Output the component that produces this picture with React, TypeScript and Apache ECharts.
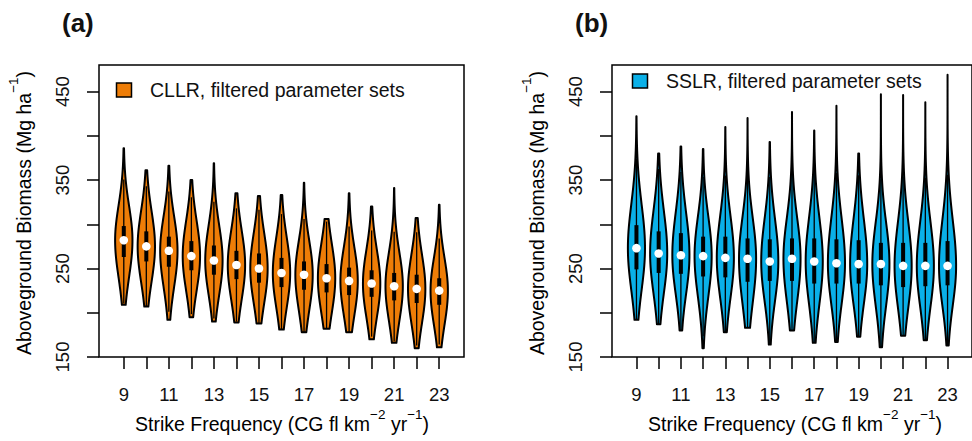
import React, { useEffect, useRef } from "react";
import * as echarts from "echarts";

// Strike frequency categories (CG fl km^-2 yr^-1)
const freq = [9, 10, 11, 12, 13, 14, 15, 16, 17, 18, 19, 20, 21, 22, 23];

// Panel (a): CLLR, filtered parameter sets (Mg ha^-1)
const aMin = [209, 207, 192, 195, 190, 189, 188, 181, 178, 182, 178, 170, 166, 160, 161];
const aQ1 = [263, 258, 252, 248, 243, 238, 234, 229, 226, 223, 220, 218, 214, 211, 209];
const aMed = [282, 275, 270, 264, 259, 254, 250, 245, 243, 239, 236, 233, 230, 227, 225];
const aQ3 = [298, 292, 286, 281, 276, 270, 267, 262, 258, 255, 251, 248, 245, 243, 239];
const aMax = [386, 361, 366, 350, 369, 335, 332, 333, 347, 306, 335, 320, 341, 307, 322];

// Panel (b): SSLR, filtered parameter sets (Mg ha^-1)
const bMin = [192, 187, 180, 160, 178, 183, 164, 180, 166, 167, 173, 161, 174, 169, 163];
const bQ1 = [249, 245, 244, 241, 240, 235, 236, 236, 233, 233, 233, 231, 229, 230, 231];
const bMed = [273, 267, 265, 264, 262, 261, 258, 261, 258, 256, 255, 255, 253, 253, 253];
const bQ3 = [299, 292, 290, 286, 286, 284, 283, 284, 284, 283, 282, 279, 279, 279, 281];
const bMax = [422, 380, 388, 385, 410, 420, 393, 427, 406, 434, 380, 447, 446, 438, 469];

const yTickValues = [150, 200, 250, 300, 350, 400, 450];
const yLabelValues = [150, 250, 350, 450];
const xLabelValues = [9, 11, 13, 15, 17, 19, 21, 23];

const FONT = "'Liberation Sans', Arial, Helvetica, sans-serif";
const ORANGE = "#EE7D07";
const BLUE = "#0AB0E8";
const INK = "#111111";

function makeRender(fill: string) {
  return (params: any, api: any) => {
    const x = api.value(0);
    const mn = api.value(1);
    const q1 = api.value(2);
    const med = api.value(3);
    const q3 = api.value(4);
    const mx = api.value(5);
    const bw = 31;
    const sUp = Math.sqrt(Math.pow((q3 - med) / 0.6745, 2) + bw * bw);
    const sDn = Math.sqrt(Math.pow((med - q1) / 0.6745, 2) + bw * bw);
    const halfW = api.size([0.385, 0])[0];
    const steps = 60;
    const left: number[][] = [];
    const right: number[][] = [];
    for (let i = 0; i <= steps; i++) {
      const v = mn + ((mx - mn) * i) / steps;
      const s = v >= med ? sUp : sDn;
      const w = halfW * Math.exp(-((v - med) * (v - med)) / (2 * s * s));
      const p = api.coord([x, v]);
      left.push([p[0] - w, p[1]]);
      right.push([p[0] + w, p[1]]);
    }
    const points = left.concat(right.reverse());
    const iqr = q3 - q1;
    const upAdj = Math.min(mx, q3 + 1.5 * iqr);
    const lowAdj = Math.max(mn, q1 - 1.5 * iqr);
    const pUp = api.coord([x, upAdj]);
    const pLow = api.coord([x, lowAdj]);
    const pQ3 = api.coord([x, q3]);
    const pQ1 = api.coord([x, q1]);
    const pMed = api.coord([x, med]);
    return {
      type: "group",
      children: [
        { type: "polygon", shape: { points }, style: { fill, stroke: "#000", lineWidth: 2, lineJoin: "round" } },
        {
          type: "line",
          shape: { x1: pUp[0], y1: pUp[1], x2: pLow[0], y2: pLow[1] },
          style: { stroke: "#000", lineWidth: 1.3 },
        },
        {
          type: "rect",
          shape: { x: pQ3[0] - 2, y: pQ3[1], width: 4, height: pQ1[1] - pQ3[1] },
          style: { fill: "#000" },
        },
        { type: "circle", shape: { cx: pMed[0], cy: pMed[1], r: 4.3 }, style: { fill: "#fff" } },
      ],
    };
  };
}

function xAxisFor(gridIndex: number) {
  return {
    type: "value",
    gridIndex,
    min: 7.9,
    max: 24.1,
    axisLine: { show: false },
    splitLine: { show: false },
    axisTick: { show: true, length: 12, customValues: freq, lineStyle: { color: "#000", width: 1.5 } },
    axisLabel: { customValues: xLabelValues, fontSize: 18.5, fontFamily: FONT, color: INK, margin: 28 },
  };
}

function yAxisFor(gridIndex: number) {
  return {
    type: "value",
    gridIndex,
    min: 150,
    max: 480,
    axisLine: { show: false },
    splitLine: { show: false },
    axisTick: { show: true, length: 12, customValues: yTickValues, lineStyle: { color: "#000", width: 1.5 } },
    axisLabel: { customValues: yLabelValues, rotate: 90, fontSize: 18.5, fontFamily: FONT, color: INK, margin: 27 },
  };
}

const richStyles = {
  m: { fontSize: 19.5, fontFamily: FONT, color: INK, lineHeight: 34 },
  s: { fontSize: 13.5, fontFamily: FONT, color: INK, lineHeight: 13, verticalAlign: "top" },
};
const xTitle = "{m|Strike Frequency (CG fl km}{s|\u22122}{m| yr}{s|\u22121}{m|)}";
const yTitle = "{m|Aboveground Biomass (Mg ha}{s|\u22121}{m|)}";

function panelGraphics(
  dx: number,
  legendDx: number,
  label: string,
  legendText: string,
  fill: string,
  legendY: number
) {
  return [
    {
      type: "text",
      x: dx + 62,
      y: 23,
      style: { text: label, fontSize: 26, fontWeight: "bold", fontFamily: FONT, fill: INK, align: "left", verticalAlign: "middle" },
    },
    {
      type: "rect",
      shape: { x: legendDx + 116.5, y: legendY - 7, width: 15, height: 14 },
      style: { fill, stroke: "#000", lineWidth: 1.5 },
    },
    {
      type: "text",
      x: legendDx + 150,
      y: legendY,
      style: { text: legendText, fontSize: 19.5, fontFamily: FONT, fill: INK, align: "left", verticalAlign: "middle" },
    },
    {
      type: "text",
      x: dx + 282,
      y: 424,
      style: { text: xTitle, rich: richStyles, align: "center", verticalAlign: "middle" },
    },
    {
      type: "text",
      x: dx + 23.5,
      y: 213,
      rotation: Math.PI / 2,
      style: { text: yTitle, rich: richStyles, align: "center", verticalAlign: "middle" },
    },
  ];
}

export default function App() {
  const ref = useRef<HTMLDivElement>(null);
  useEffect(() => {
    if (!ref.current) return;
    const chart = echarts.init(ref.current, null, { renderer: "svg" });
    const dataA = freq.map((f, i) => [f, aMin[i], aQ1[i], aMed[i], aQ3[i], aMax[i]]);
    const dataB = freq.map((f, i) => [f, bMin[i], bQ1[i], bMed[i], bQ3[i], bMax[i]]);
    chart.setOption({
      animation: false,
      backgroundColor: "#ffffff",
      grid: [
        { left: 99, top: 65, width: 365, height: 292, show: true, borderColor: "#000", borderWidth: 1.5, backgroundColor: "transparent" },
        { left: 612, top: 65, width: 366, height: 292, show: true, borderColor: "#000", borderWidth: 1.5, backgroundColor: "transparent" },
      ],
      xAxis: [xAxisFor(0), xAxisFor(1)],
      yAxis: [yAxisFor(0), yAxisFor(1)],
      series: [
        {
          name: "CLLR, filtered parameter sets",
          type: "custom",
          xAxisIndex: 0,
          yAxisIndex: 0,
          renderItem: makeRender(ORANGE),
          encode: { x: 0, y: [1, 2, 3, 4, 5] },
          data: dataA,
        },
        {
          name: "SSLR, filtered parameter sets",
          type: "custom",
          xAxisIndex: 1,
          yAxisIndex: 1,
          renderItem: makeRender(BLUE),
          encode: { x: 0, y: [1, 2, 3, 4, 5] },
          data: dataB,
        },
      ],
      graphic: [
        ...panelGraphics(0, 0, "(a)", "CLLR, filtered parameter sets", ORANGE, 90),
        ...panelGraphics(513, 516, "(b)", "SSLR, filtered parameter sets", BLUE, 81),
      ],
    });
    return () => chart.dispose();
  }, []);
  return (
    <div
      ref={ref}
      style={{ position: "absolute", left: 0, top: 0, width: 972, height: 441 }}
    />
  );
}
